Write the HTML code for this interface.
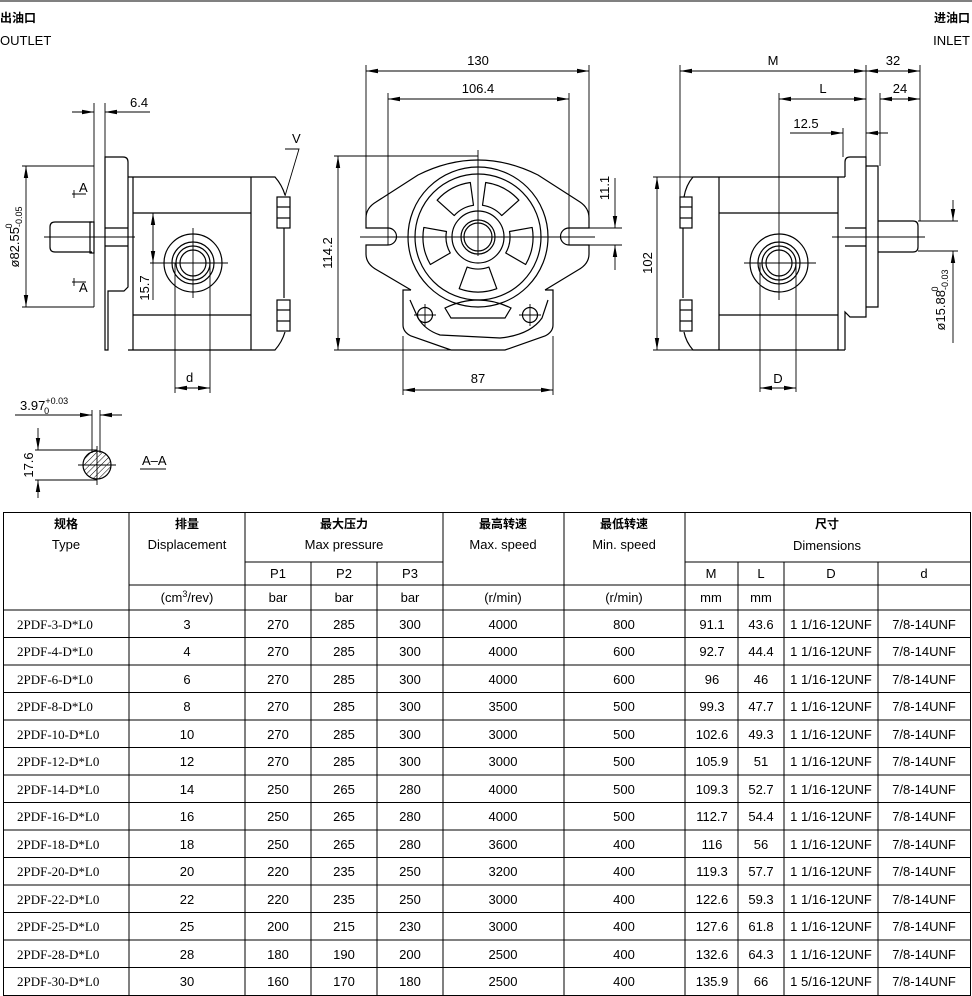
<!DOCTYPE html>
<html><head><meta charset="utf-8"><style>
html,body{margin:0;padding:0;background:#fff;}
svg{display:block}
text{font-family:"Liberation Sans","Noto Sans CJK SC",sans-serif;fill:#000}
.t{font-size:13px}
.s{font-family:"Liberation Serif","Noto Serif CJK SC",serif;font-size:13px}
.b{font-weight:bold;font-family:"Noto Sans CJK SC","WenQuanYi Zen Hei",sans-serif;font-size:12px}
</style></head><body>
<svg width="972" height="996" viewBox="0 0 972 996" xmlns="http://www.w3.org/2000/svg">
<defs>
<marker id="a" viewBox="0 0 12 6" refX="12" refY="3" markerWidth="12" markerHeight="6" orient="auto-start-reverse" markerUnits="userSpaceOnUse"><path d="M0,0.8 L12,3 L0,5.2z" fill="#000"/></marker>
<path id="pk" d="M30.1,-10.9 L51.7,-18.8 A55 55 0 0 1 51.7,18.8 L30.1,10.9 A32 32 0 0 0 30.1,-10.9 Z" fill="none" stroke="#000" stroke-width="1.2" stroke-linejoin="round"/>
<pattern id="h" width="4" height="4" patternUnits="userSpaceOnUse" patternTransform="rotate(45)"><line x1="0" y1="0" x2="0" y2="4" stroke="#000" stroke-width="1"/></pattern>
</defs>
<line x1="0" y1="1" x2="972" y2="1" stroke="#000" stroke-width="1"/>
<text class="b" x="0" y="22">出油口</text>
<text class="t" x="0" y="45">OUTLET</text>
<text class="b" x="970" y="22" text-anchor="end">进油口</text>
<text class="t" x="970" y="45" text-anchor="end">INLET</text>

<g stroke="#000" fill="none" stroke-width="1.2">
<!-- LEFT VIEW -->
<path d="M105,157 H123 Q128,157 128,162 V287 L124,291 H108 V350 H105 Z"/>
<path d="M128,177 H275 Q282,185 285,195 M128,350 H275 Q282,342 285,332"/>
<line x1="133" y1="177" x2="133" y2="350"/>
<line x1="251" y1="177" x2="251" y2="350"/>
<line x1="133" y1="213" x2="251" y2="213"/>
<line x1="133" y1="315" x2="251" y2="315"/>
<line x1="284" y1="228" x2="284" y2="298"/>
<rect x="277" y="197" width="13" height="31"/><line x1="277" y1="207" x2="290" y2="207"/><line x1="277" y1="218" x2="290" y2="218"/>
<rect x="277" y="300" width="13" height="31"/><line x1="277" y1="310" x2="290" y2="310"/><line x1="277" y1="321" x2="290" y2="321"/>
<path d="M92,222 H55 Q50,222 50,227 V247 Q50,252 55,252 H92"/>
<rect x="90" y="222" width="4" height="31"/>
<line x1="105" y1="228" x2="128" y2="228"/><line x1="105" y1="246" x2="128" y2="246"/>
<circle cx="193" cy="263" r="29"/><circle cx="193" cy="263" r="21"/><circle cx="193" cy="263" r="17"/><circle cx="193" cy="263" r="13"/>
</g>
<g stroke="#000" fill="none" stroke-width="0.9">
<line x1="44" y1="237" x2="135" y2="237"/>
<line x1="150" y1="263" x2="228" y2="263"/><line x1="193" y1="228" x2="193" y2="298"/>
<line x1="94" y1="103" x2="94" y2="307"/><line x1="105" y1="103" x2="105" y2="157"/>
<line x1="72" y1="112" x2="94" y2="112" marker-end="url(#a)"/><line x1="150" y1="112" x2="105" y2="112" marker-end="url(#a)"/>
<line x1="22" y1="166" x2="94" y2="166"/><line x1="22" y1="307" x2="94" y2="307"/>
<line x1="26" y1="236" x2="26" y2="166" marker-end="url(#a)"/><line x1="26" y1="236" x2="26" y2="307" marker-end="url(#a)"/>
<line x1="153" y1="213" x2="153" y2="300"/><line x1="153" y1="240" x2="153" y2="213" marker-end="url(#a)"/><line x1="153" y1="240" x2="153" y2="263" marker-end="url(#a)"/>
<line x1="175" y1="263" x2="175" y2="393"/><line x1="210" y1="263" x2="210" y2="393"/>
<line x1="192" y1="388" x2="175" y2="388" marker-end="url(#a)"/><line x1="192" y1="388" x2="210" y2="388" marker-end="url(#a)"/>
<path d="M285,196 L299,149 H285"/>
<path d="M86,194 H72 M74,190 v8 M86,282 H72 M74,278 v8"/>
</g>
<text class="t" x="130" y="107">6.4</text>
<text class="t" x="292" y="143">V</text>
<text class="t" x="79" y="192">A</text>
<text class="t" x="79" y="292">A</text>
<text class="t" x="186" y="382">d</text>
<text class="t" transform="translate(19,237) rotate(-90)" text-anchor="middle">ø82.55<tspan font-size="9" dy="3">-0.05</tspan><tspan font-size="9" dx="-22" dy="-10">0</tspan></text>
<text class="t" transform="translate(149,288) rotate(-90)" text-anchor="middle">15.7</text>

<!-- MIDDLE VIEW -->
<g stroke="#000" fill="none" stroke-width="1.2">
<path d="M418,175 Q478,145 538,175 L580,202 Q589,208 589,218 V228 H569 A8.5,8.5 0 0 0 569,245 H589 V254 Q589,264 578,270 L545,290 M418,175 L376,202 Q366,208 366,218 V228 H388 A8.5,8.5 0 0 1 388,245 H366 V254 Q366,264 377,270 L411,290"/>
<path d="M545,290 H553 V325 Q553,332 545,336 L505,350 H451 L411,336 Q403,332 403,325 V290 H411"/>
<path d="M410,300 L418,318 Q425,330 440,335 L500,338 Q530,335 542,318 L548,300"/>
<path d="M445,308 Q478,292 511,308 L505,318 H451 Z"/>
<circle cx="478" cy="237" r="70"/><circle cx="478" cy="237" r="63"/>
<circle cx="478" cy="237" r="26"/><circle cx="478" cy="237" r="17"/><circle cx="478" cy="237" r="14"/>
<circle cx="425" cy="315" r="7.5"/><circle cx="530" cy="315" r="7.5"/>
</g>
<use href="#pk" transform="translate(478,237) rotate(-118)"/>
<use href="#pk" transform="translate(478,237) rotate(-62)"/>
<use href="#pk" transform="translate(478,237) rotate(10)"/>
<use href="#pk" transform="translate(478,237) rotate(90)"/>
<use href="#pk" transform="translate(478,237) rotate(170)"/>
<g stroke="#000" fill="none" stroke-width="0.9">
<line x1="478" y1="150" x2="478" y2="256"/><line x1="360" y1="237" x2="595" y2="237"/>
<line x1="414" y1="315" x2="436" y2="315"/><line x1="425" y1="304" x2="425" y2="326"/>
<line x1="519" y1="315" x2="541" y2="315"/><line x1="530" y1="304" x2="530" y2="326"/>
<line x1="366" y1="65" x2="366" y2="228"/><line x1="589" y1="65" x2="589" y2="228"/>
<line x1="388" y1="93" x2="388" y2="245"/><line x1="569" y1="93" x2="569" y2="245"/>
<line x1="478" y1="71" x2="366" y2="71" marker-end="url(#a)"/><line x1="478" y1="71" x2="589" y2="71" marker-end="url(#a)"/>
<line x1="478" y1="99" x2="388" y2="99" marker-end="url(#a)"/><line x1="478" y1="99" x2="569" y2="99" marker-end="url(#a)"/>
<line x1="334" y1="156" x2="478" y2="156"/><line x1="334" y1="350" x2="451" y2="350"/>
<line x1="338" y1="253" x2="338" y2="156" marker-end="url(#a)"/><line x1="338" y1="253" x2="338" y2="350" marker-end="url(#a)"/>
<line x1="403" y1="336" x2="403" y2="395"/><line x1="553" y1="336" x2="553" y2="395"/>
<line x1="478" y1="390" x2="403" y2="390" marker-end="url(#a)"/><line x1="478" y1="390" x2="553" y2="390" marker-end="url(#a)"/>
<line x1="589" y1="228" x2="622" y2="228"/><line x1="589" y1="245" x2="622" y2="245"/>
<line x1="615" y1="178" x2="615" y2="228" marker-end="url(#a)"/><line x1="615" y1="270" x2="615" y2="245" marker-end="url(#a)"/>
</g>
<text class="t" x="478" y="65" text-anchor="middle">130</text>
<text class="t" x="478" y="93" text-anchor="middle">106.4</text>
<text class="t" x="478" y="383" text-anchor="middle">87</text>
<text class="t" transform="translate(332,253) rotate(-90)" text-anchor="middle">114.2</text>
<text class="t" transform="translate(609,188) rotate(-90)" text-anchor="middle">11.1</text>

<!-- RIGHT VIEW -->
<g stroke="#000" fill="none" stroke-width="1.2">
<path d="M845,177 H693 Q686,185 684,197 M845,350 H693 Q686,342 684,332"/>
<line x1="683" y1="228" x2="683" y2="298"/>
<rect x="680" y="197" width="12" height="31"/><line x1="680" y1="207" x2="692" y2="207"/><line x1="680" y1="218" x2="692" y2="218"/>
<rect x="680" y="300" width="12" height="31"/><line x1="680" y1="310" x2="692" y2="310"/><line x1="680" y1="321" x2="692" y2="321"/>
<line x1="719" y1="177" x2="719" y2="350"/><line x1="838" y1="177" x2="838" y2="350"/>
<line x1="719" y1="213" x2="838" y2="213"/><line x1="719" y1="315" x2="838" y2="315"/>
<path d="M845,177 V162 Q845,157 850,157 H866 V317 H850 L845,312 V350"/>
<path d="M866,166 H878 V307 H866"/>
<path d="M878,221 H913 Q918,221 918,226 V247 Q918,252 913,252 H878"/>
<line x1="845" y1="228" x2="866" y2="228"/><line x1="845" y1="246" x2="866" y2="246"/>
<circle cx="779" cy="263" r="29"/><circle cx="779" cy="263" r="21"/><circle cx="779" cy="263" r="17"/><circle cx="779" cy="263" r="13"/>
</g>
<g stroke="#000" fill="none" stroke-width="0.9">
<line x1="832" y1="237" x2="925" y2="237"/>
<line x1="744" y1="263" x2="816" y2="263"/><line x1="779" y1="93" x2="779" y2="300"/>
<line x1="680" y1="65" x2="680" y2="197"/><line x1="866" y1="65" x2="866" y2="157"/><line x1="920" y1="65" x2="920" y2="221"/>
<line x1="880" y1="93" x2="880" y2="166"/><line x1="843" y1="128" x2="843" y2="157"/>
<line x1="773" y1="71" x2="680" y2="71" marker-end="url(#a)"/><line x1="773" y1="71" x2="866" y2="71" marker-end="url(#a)"/>
<line x1="893" y1="71" x2="866" y2="71" marker-end="url(#a)"/><line x1="893" y1="71" x2="920" y2="71" marker-end="url(#a)"/>
<line x1="823" y1="99" x2="779" y2="99" marker-end="url(#a)"/><line x1="823" y1="99" x2="866" y2="99" marker-end="url(#a)"/>
<line x1="900" y1="99" x2="880" y2="99" marker-end="url(#a)"/><line x1="900" y1="99" x2="920" y2="99" marker-end="url(#a)"/>
<line x1="790" y1="133" x2="843" y2="133" marker-end="url(#a)"/><line x1="888" y1="133" x2="866" y2="133" marker-end="url(#a)"/>
<line x1="653" y1="177" x2="693" y2="177"/><line x1="653" y1="350" x2="693" y2="350"/>
<line x1="657" y1="263" x2="657" y2="177" marker-end="url(#a)"/><line x1="657" y1="263" x2="657" y2="350" marker-end="url(#a)"/>
<line x1="760" y1="263" x2="760" y2="392"/><line x1="796" y1="263" x2="796" y2="392"/>
<line x1="778" y1="388" x2="760" y2="388" marker-end="url(#a)"/><line x1="778" y1="388" x2="796" y2="388" marker-end="url(#a)"/>
<line x1="918" y1="221" x2="958" y2="221"/><line x1="918" y1="251" x2="958" y2="251"/>
<line x1="953" y1="200" x2="953" y2="221" marker-end="url(#a)"/><line x1="953" y1="343" x2="953" y2="251" marker-end="url(#a)"/>
</g>
<text class="t" x="773" y="65" text-anchor="middle">M</text>
<text class="t" x="893" y="65" text-anchor="middle">32</text>
<text class="t" x="823" y="93" text-anchor="middle">L</text>
<text class="t" x="900" y="93" text-anchor="middle">24</text>
<text class="t" x="806" y="128" text-anchor="middle">12.5</text>
<text class="t" x="778" y="383" text-anchor="middle">D</text>
<text class="t" transform="translate(652,263) rotate(-90)" text-anchor="middle">102</text>
<text class="t" transform="translate(945,300) rotate(-90)" text-anchor="middle">ø15.88<tspan font-size="9" dy="3">-0.03</tspan><tspan font-size="9" dx="-22" dy="-10">0</tspan></text>

<!-- SECTION A-A -->
<circle cx="97" cy="465" r="14" fill="url(#h)" stroke="#000" stroke-width="1.2"/>
<g stroke="#000" fill="none" stroke-width="0.9">
<line x1="78" y1="465" x2="116" y2="465"/><line x1="97" y1="446" x2="97" y2="485"/>
<line x1="92" y1="410" x2="92" y2="453"/><line x1="100" y1="410" x2="100" y2="453"/>
<line x1="15" y1="415" x2="92" y2="415" marker-end="url(#a)"/><line x1="122" y1="415" x2="100" y2="415" marker-end="url(#a)"/>
<line x1="35" y1="450" x2="97" y2="450"/><line x1="35" y1="480" x2="97" y2="480"/>
<line x1="38" y1="428" x2="38" y2="450" marker-end="url(#a)"/><line x1="38" y1="498" x2="38" y2="480" marker-end="url(#a)"/>
<line x1="140" y1="469" x2="166" y2="469"/>
</g>
<text class="t" x="20" y="410">3.97<tspan font-size="9" dy="-6">+0.03</tspan><tspan font-size="9" dx="-24" dy="10">0</tspan></text>
<text class="t" transform="translate(33,465) rotate(-90)" text-anchor="middle">17.6</text>
<text class="t" x="142" y="465">A–A</text>

<!-- TABLE -->
<g stroke="#000" stroke-width="1" fill="none">
<rect x="3.5" y="512.5" width="967" height="483"/>
<line x1="245" y1="562" x2="443" y2="562"/><line x1="685" y1="562" x2="970" y2="562"/>
<line x1="129" y1="585" x2="970" y2="585"/>
<line x1="311" y1="562" x2="311" y2="610"/><line x1="377" y1="562" x2="377" y2="610"/>
<line x1="738" y1="562" x2="738" y2="995"/><line x1="784" y1="562" x2="784" y2="995"/><line x1="878" y1="562" x2="878" y2="995"/>
<line x1="129" y1="512" x2="129" y2="995"/><line x1="245" y1="512" x2="245" y2="995"/>
<line x1="311" y1="610" x2="311" y2="995"/><line x1="377" y1="610" x2="377" y2="995"/>
<line x1="443" y1="512" x2="443" y2="995"/><line x1="564" y1="512" x2="564" y2="995"/><line x1="685" y1="512" x2="685" y2="995"/>
<line x1="3" y1="610" x2="970" y2="610"/>
<line x1="3" y1="637.5" x2="970" y2="637.5"/><line x1="3" y1="665" x2="970" y2="665"/><line x1="3" y1="692.5" x2="970" y2="692.5"/><line x1="3" y1="720" x2="970" y2="720"/><line x1="3" y1="747.5" x2="970" y2="747.5"/><line x1="3" y1="775" x2="970" y2="775"/><line x1="3" y1="802.5" x2="970" y2="802.5"/><line x1="3" y1="830" x2="970" y2="830"/><line x1="3" y1="857.5" x2="970" y2="857.5"/><line x1="3" y1="885" x2="970" y2="885"/><line x1="3" y1="912.5" x2="970" y2="912.5"/><line x1="3" y1="940" x2="970" y2="940"/><line x1="3" y1="967.5" x2="970" y2="967.5"/>
</g>
<g class="t" text-anchor="middle" font-size="13">
<text class="b" x="66" y="528" text-anchor="middle">规格</text><text class="t" x="66" y="549" text-anchor="middle">Type</text>
<text class="b" x="187" y="528" text-anchor="middle">排量</text><text class="t" x="187" y="549" text-anchor="middle">Displacement</text>
<text class="b" x="344" y="528" text-anchor="middle">最大压力</text><text class="t" x="344" y="549" text-anchor="middle">Max pressure</text>
<text class="b" x="503" y="528" text-anchor="middle">最高转速</text><text class="t" x="503" y="549" text-anchor="middle">Max. speed</text>
<text class="b" x="624" y="528" text-anchor="middle">最低转速</text><text class="t" x="624" y="549" text-anchor="middle">Min. speed</text>
<text class="b" x="827" y="528" text-anchor="middle">尺寸</text><text class="t" x="827" y="550" text-anchor="middle">Dimensions</text>
<text class="t" x="278" y="578" text-anchor="middle">P1</text><text class="t" x="344" y="578" text-anchor="middle">P2</text><text class="t" x="410" y="578" text-anchor="middle">P3</text>
<text class="t" x="711" y="578" text-anchor="middle">M</text><text class="t" x="761" y="578" text-anchor="middle">L</text><text class="t" x="831" y="578" text-anchor="middle">D</text><text class="t" x="924" y="578" text-anchor="middle">d</text>
<text class="t" x="187" y="602" text-anchor="middle">(cm<tspan font-size="9" dy="-5">3</tspan><tspan dy="5">/rev)</tspan></text>
<text class="t" x="278" y="602" text-anchor="middle">bar</text><text class="t" x="344" y="602" text-anchor="middle">bar</text><text class="t" x="410" y="602" text-anchor="middle">bar</text>
<text class="t" x="503" y="602" text-anchor="middle">(r/min)</text><text class="t" x="624" y="602" text-anchor="middle">(r/min)</text>
<text class="t" x="711" y="602" text-anchor="middle">mm</text><text class="t" x="761" y="602" text-anchor="middle">mm</text>
</g>
<g class="t" font-size="13">
<g text-anchor="start" class="s">
<text class="s" x="17" y="629">2PDF-3-D*L0</text><text class="s" x="17" y="656">2PDF-4-D*L0</text><text class="s" x="17" y="684">2PDF-6-D*L0</text><text class="s" x="17" y="711">2PDF-8-D*L0</text><text class="s" x="17" y="739">2PDF-10-D*L0</text><text class="s" x="17" y="766">2PDF-12-D*L0</text><text class="s" x="17" y="794">2PDF-14-D*L0</text><text class="s" x="17" y="821">2PDF-16-D*L0</text><text class="s" x="17" y="849">2PDF-18-D*L0</text><text class="s" x="17" y="876">2PDF-20-D*L0</text><text class="s" x="17" y="904">2PDF-22-D*L0</text><text class="s" x="17" y="931">2PDF-25-D*L0</text><text class="s" x="17" y="959">2PDF-28-D*L0</text><text class="s" x="17" y="986">2PDF-30-D*L0</text>
</g>
</g>
<g font-size="13" text-anchor="middle" font-family="Liberation Sans, sans-serif">
<text x="187" y="629">3</text><text x="187" y="656">4</text><text x="187" y="684">6</text><text x="187" y="711">8</text><text x="187" y="739">10</text><text x="187" y="766">12</text><text x="187" y="794">14</text><text x="187" y="821">16</text><text x="187" y="849">18</text><text x="187" y="876">20</text><text x="187" y="904">22</text><text x="187" y="931">25</text><text x="187" y="959">28</text><text x="187" y="986">30</text>
<text x="278" y="629">270</text><text x="278" y="656">270</text><text x="278" y="684">270</text><text x="278" y="711">270</text><text x="278" y="739">270</text><text x="278" y="766">270</text><text x="278" y="794">250</text><text x="278" y="821">250</text><text x="278" y="849">250</text><text x="278" y="876">220</text><text x="278" y="904">220</text><text x="278" y="931">200</text><text x="278" y="959">180</text><text x="278" y="986">160</text>
<text x="344" y="629">285</text><text x="344" y="656">285</text><text x="344" y="684">285</text><text x="344" y="711">285</text><text x="344" y="739">285</text><text x="344" y="766">285</text><text x="344" y="794">265</text><text x="344" y="821">265</text><text x="344" y="849">265</text><text x="344" y="876">235</text><text x="344" y="904">235</text><text x="344" y="931">215</text><text x="344" y="959">190</text><text x="344" y="986">170</text>
<text x="410" y="629">300</text><text x="410" y="656">300</text><text x="410" y="684">300</text><text x="410" y="711">300</text><text x="410" y="739">300</text><text x="410" y="766">300</text><text x="410" y="794">280</text><text x="410" y="821">280</text><text x="410" y="849">280</text><text x="410" y="876">250</text><text x="410" y="904">250</text><text x="410" y="931">230</text><text x="410" y="959">200</text><text x="410" y="986">180</text>
<text x="503" y="629">4000</text><text x="503" y="656">4000</text><text x="503" y="684">4000</text><text x="503" y="711">3500</text><text x="503" y="739">3000</text><text x="503" y="766">3000</text><text x="503" y="794">4000</text><text x="503" y="821">4000</text><text x="503" y="849">3600</text><text x="503" y="876">3200</text><text x="503" y="904">3000</text><text x="503" y="931">3000</text><text x="503" y="959">2500</text><text x="503" y="986">2500</text>
<text x="624" y="629">800</text><text x="624" y="656">600</text><text x="624" y="684">600</text><text x="624" y="711">500</text><text x="624" y="739">500</text><text x="624" y="766">500</text><text x="624" y="794">500</text><text x="624" y="821">500</text><text x="624" y="849">400</text><text x="624" y="876">400</text><text x="624" y="904">400</text><text x="624" y="931">400</text><text x="624" y="959">400</text><text x="624" y="986">400</text>
<text x="712" y="629">91.1</text><text x="712" y="656">92.7</text><text x="712" y="684">96</text><text x="712" y="711">99.3</text><text x="712" y="739">102.6</text><text x="712" y="766">105.9</text><text x="712" y="794">109.3</text><text x="712" y="821">112.7</text><text x="712" y="849">116</text><text x="712" y="876">119.3</text><text x="712" y="904">122.6</text><text x="712" y="931">127.6</text><text x="712" y="959">132.6</text><text x="712" y="986">135.9</text>
<text x="761" y="629">43.6</text><text x="761" y="656">44.4</text><text x="761" y="684">46</text><text x="761" y="711">47.7</text><text x="761" y="739">49.3</text><text x="761" y="766">51</text><text x="761" y="794">52.7</text><text x="761" y="821">54.4</text><text x="761" y="849">56</text><text x="761" y="876">57.7</text><text x="761" y="904">59.3</text><text x="761" y="931">61.8</text><text x="761" y="959">64.3</text><text x="761" y="986">66</text>
<text x="831" y="629">1 1/16-12UNF</text><text x="831" y="656">1 1/16-12UNF</text><text x="831" y="684">1 1/16-12UNF</text><text x="831" y="711">1 1/16-12UNF</text><text x="831" y="739">1 1/16-12UNF</text><text x="831" y="766">1 1/16-12UNF</text><text x="831" y="794">1 1/16-12UNF</text><text x="831" y="821">1 1/16-12UNF</text><text x="831" y="849">1 1/16-12UNF</text><text x="831" y="876">1 1/16-12UNF</text><text x="831" y="904">1 1/16-12UNF</text><text x="831" y="931">1 1/16-12UNF</text><text x="831" y="959">1 1/16-12UNF</text><text x="831" y="986">1 5/16-12UNF</text>
<text x="924" y="629">7/8-14UNF</text><text x="924" y="656">7/8-14UNF</text><text x="924" y="684">7/8-14UNF</text><text x="924" y="711">7/8-14UNF</text><text x="924" y="739">7/8-14UNF</text><text x="924" y="766">7/8-14UNF</text><text x="924" y="794">7/8-14UNF</text><text x="924" y="821">7/8-14UNF</text><text x="924" y="849">7/8-14UNF</text><text x="924" y="876">7/8-14UNF</text><text x="924" y="904">7/8-14UNF</text><text x="924" y="931">7/8-14UNF</text><text x="924" y="959">7/8-14UNF</text><text x="924" y="986">7/8-14UNF</text>
</g>
</svg>
</body></html>
